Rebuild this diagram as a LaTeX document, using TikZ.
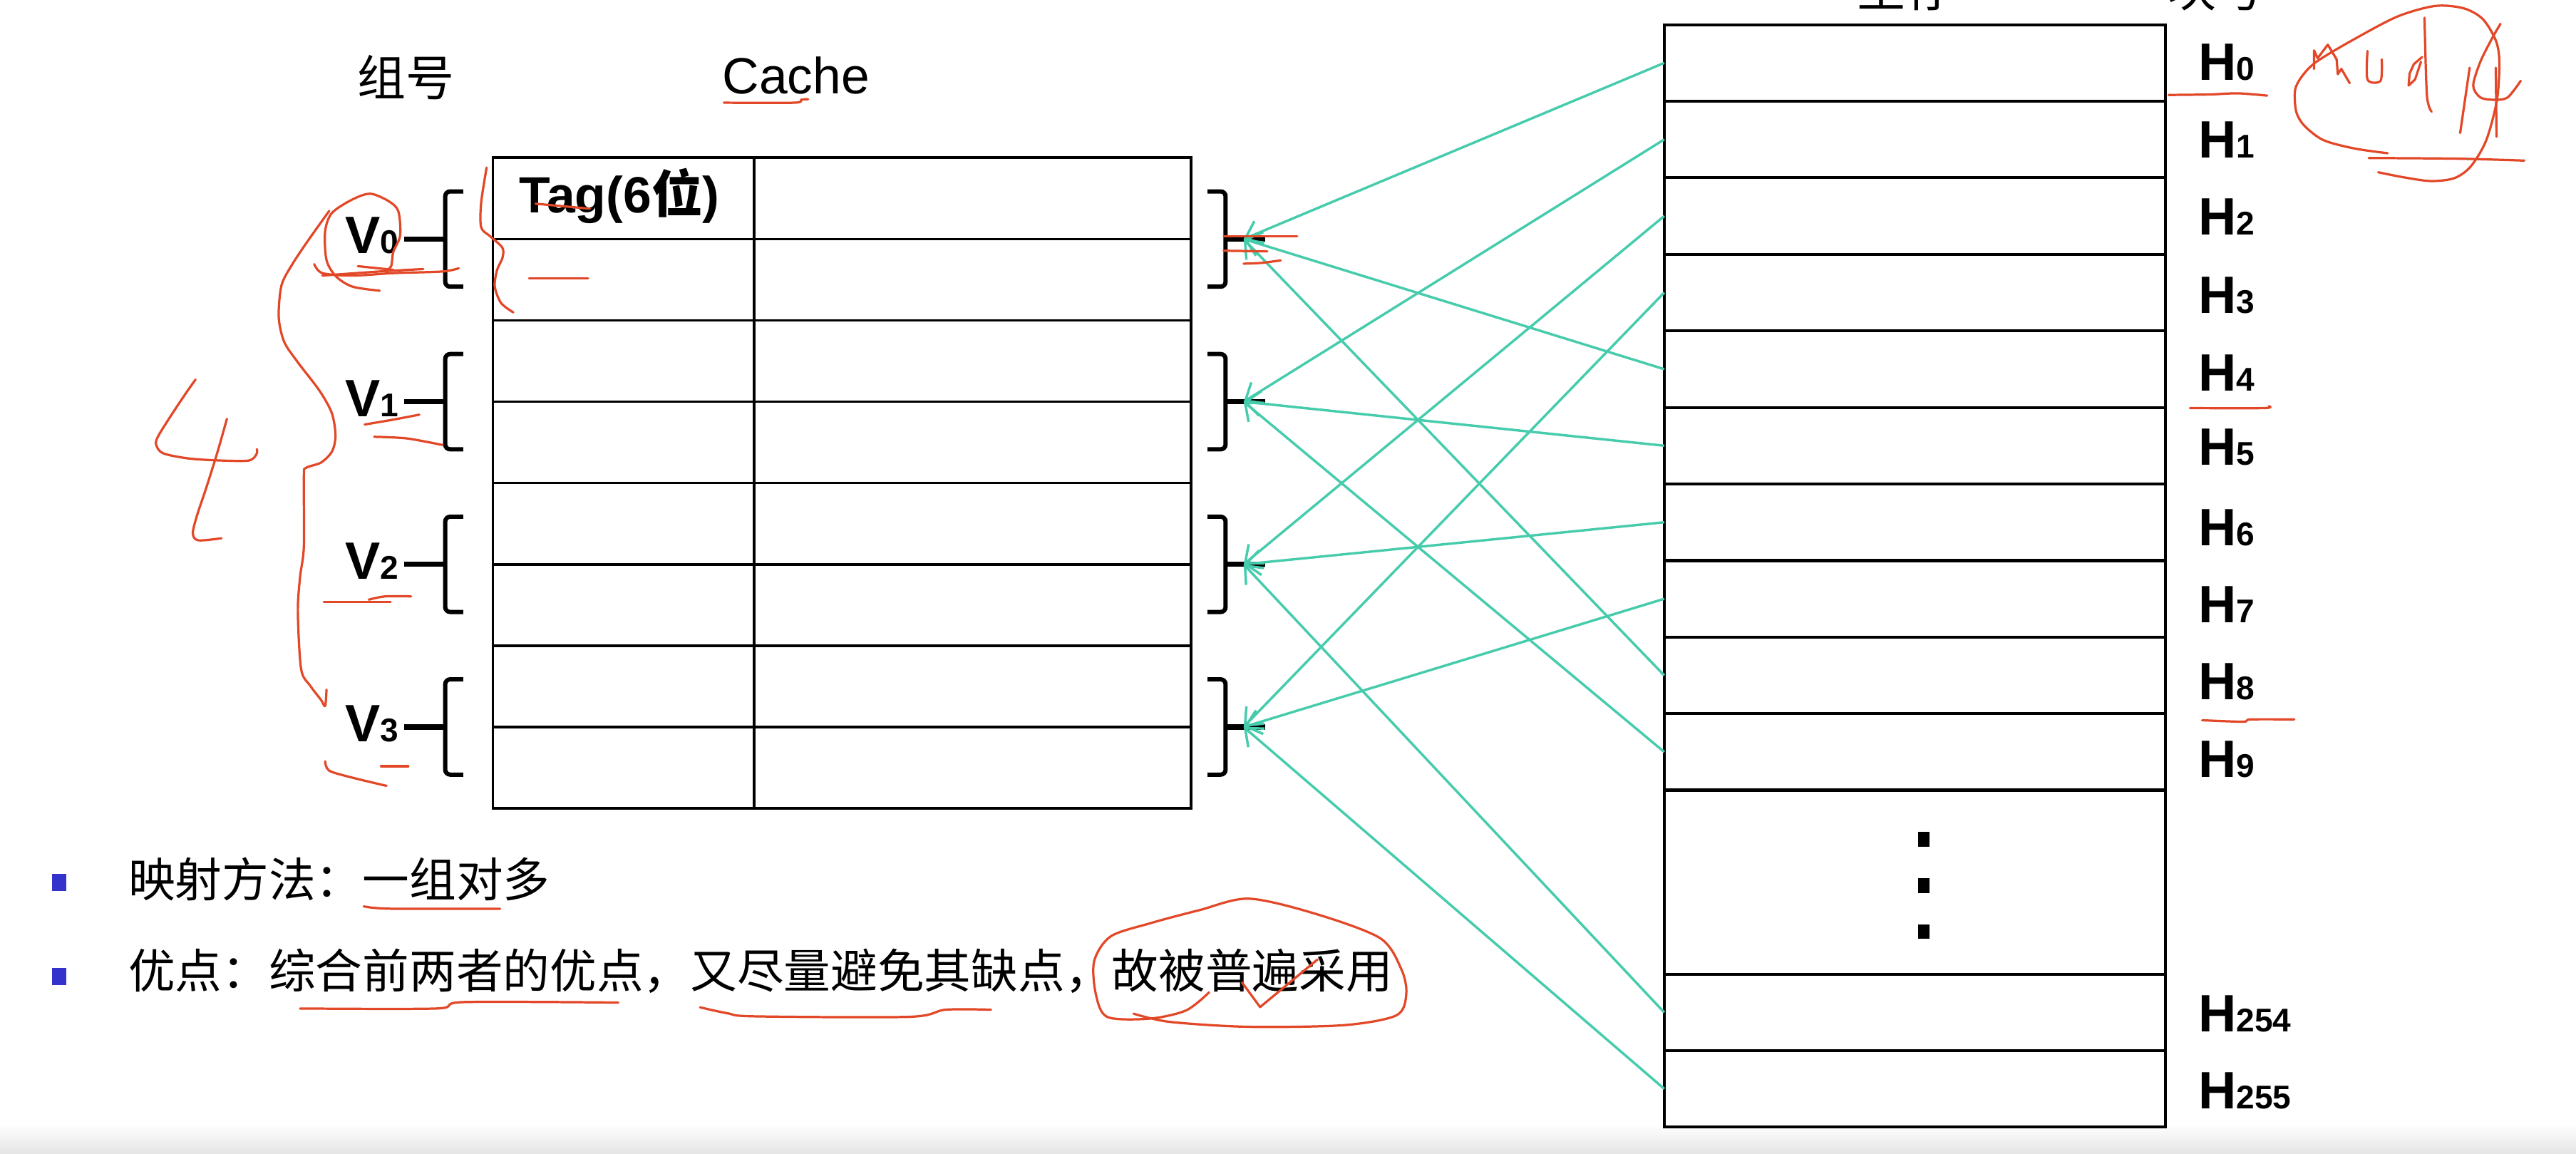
\documentclass[tikz,border=0pt]{standalone}
\usepackage{fontspec}
\setmainfont{Liberation Sans}
\newfontfamily\cjk{Noto Sans CJK SC}
\usetikzlibrary{arrows.meta}
\definecolor{tealline}{RGB}{70,204,172}
\definecolor{ink}{RGB}{226,72,40}
\definecolor{bulletblue}{RGB}{51,51,204}
\newcommand\lsub[1]{{\fontsize{20}{20}\selectfont #1}}
\begin{document}
\begin{tikzpicture}[x=1pt,y=-1pt,
  cell/.style={draw,line width=1.6pt,inner sep=0pt,outer sep=0pt},
  mrow/.style={draw,line width=1.8pt,inner sep=0pt,outer sep=0pt,minimum width=305pt},
  brk/.style={line width=2.6pt,rounded corners=3pt},
  stub/.style={line width=3.2pt},
  conn/.style={draw=tealline,line width=1.5pt,-{Straight Barb[length=9pt,width=15pt]}},
  boldlab/.style={inner sep=0pt,font=\bfseries\fontsize{32}{32}\selectfont},
  cjklab/.style={inner sep=0pt,font=\cjk\fontsize{29.5}{29.5}\selectfont},
  body/.style={inner sep=0pt,anchor=west,font=\cjk\fontsize{28.5}{28.5}\selectfont},
  bul/.style={fill=bulletblue,minimum width=8.5pt,minimum height=10.5pt,inner sep=0pt},
  dotbox/.style={fill=black,minimum width=7pt,minimum height=9pt,inner sep=0pt},
  redink/.style={draw=ink,line width=1.4pt,line cap=round,line join=round}]
\useasboundingbox (0,0) rectangle (1568,702);
\clip (0,0) rectangle (1568,702);
\shade[top color=white,bottom color=black!10] (0,684) rectangle (1568,702);

% Cache table
\foreach \i in {0,...,7}{
  \node[cell,minimum width=159pt,minimum height=49.5pt] (t\i) at (379.5,{96+49.5*(\i+0.5)}) {};
  \node[cell,minimum width=266pt,minimum height=49.5pt] (d\i) at (592,{96+49.5*(\i+0.5)}) {};
}
\node[boldlab,anchor=base west,font=\bfseries\fontsize{31}{31}\selectfont] (tag) at (316,129.4) {Tag(6{\cjk 位})};

% Main memory
\foreach \k in {0,...,9}
  \node[mrow,minimum height=46.6pt] (m\k) at (1165.5,{15+46.6*(\k+0.5)}) {};
\node[mrow,minimum height=112.5pt] (mdots) at (1165.5,537) {};
\node[mrow,minimum height=46.5pt] (m254) at (1165.5,616.25) {};
\node[mrow,minimum height=46.5pt] (m255) at (1165.5,662.75) {};
\node[dotbox] (dot1) at (1171,511) {};
\node[dotbox] (dot2) at (1171,539) {};
\node[dotbox] (dot3) at (1171,567) {};

% H labels
\foreach \n/\y in {0/38,1/85,2/132,3/180,4/227,5/272,6/321,7/368,8/415,9/462,254/617,255/664}
  \node[boldlab,anchor=west] (h\n) at (1338,\y) {H\lsub{\n}};

% groups: brackets, labels, tips
\foreach \g in {0,...,3}{
  \pgfmathsetmacro\cy{145.5+99*\g}
  \draw[brk] (282,{\cy-29}) -- (271,{\cy-29}) -- (271,{\cy+29}) -- (282,{\cy+29});
  \draw[stub] (246,\cy) -- (271,\cy);
  \draw[brk] (735,{\cy-29}) -- (746,{\cy-29}) -- (746,{\cy+29}) -- (735,{\cy+29});
  \draw[stub] (746,\cy) -- (770,\cy);
  \coordinate (tip\g) at (757,\cy);
  \node[boldlab,anchor=east] (v\g) at (243,{\cy-2}) {V\lsub{\g}};
}

% connectors
\foreach \k/\g in {0/0,1/1,2/2,3/3,4/0,5/1,6/2,7/3,8/0,9/1,254/2,255/3}
  \draw[conn] (m\k.west) -- (tip\g);

% headings
\node[cjklab] (zuhao) at (247,47) {组号};
\node[inner sep=0pt,font=\fontsize{31}{31}\selectfont] (cache) at (484.5,46) {Cache};
\node[cjklab,anchor=base] (zhucun) at (1160,4) {主存};
\node[cjklab,anchor=base] (kuaihao) at (1349,4) {块号};

% bullet text
\node[bul] (b1) at (36,537) {};
\node[bul] (b2) at (36,594.5) {};
\node[body] (l1) at (78,535) {映射方法：一组对多};
\node[body] (l2) at (78,591) {优点：综合前两者的优点，又尽量避免其缺点，故被普遍采用};

% red handwriting, left side
\begin{scope}[shift={(65.08,108.46)},xscale=0.16603,yscale=0.24907]
\draw[redink] plot[smooth,tension=0.5] coordinates {(325,492) (290,525) (240,575) (190,628) (180,650) (205,672) (300,685) (420,690) (520,690) (548,675) (550,662)};
\draw[redink] plot[smooth,tension=0.5] coordinates {(440,588) (405,670) (365,755) (330,825) (315,868) (335,885) (420,880)};
\draw[redink] plot[smooth,tension=0.5] coordinates {(815,80) (740,150) (680,210) (640,262) (630,340) (650,400) (700,450) (780,520) (825,575) (838,630) (825,668) (785,695) (730,708) (722,730) (722,900) (708,975) (700,1060) (712,1200) (745,1240) (785,1275) (800,1290) (805,1250)};
\draw[redink] plot[smooth,tension=0.5] coordinates {(1000,275) (900,265) (840,240) (805,200) (800,130) (825,85) (900,52) (965,38) (1030,55) (1068,80) (1075,140) (1050,180) (1042,215) (1020,228)};
\draw[redink] plot[smooth,tension=0.5] coordinates {(760,210) (790,232) (900,238) (1050,232) (1230,228) (1290,220)};
\draw[redink] plot[smooth,tension=0.5] coordinates {(790,238) (1000,228) (1160,222)};
\draw[redink] (920,215) -- (1050,224);
\draw[redink] plot[smooth,tension=0.5] coordinates {(1392,-26) (1372,60) (1372,120) (1405,142) (1450,170) (1450,195) (1430,225) (1422,265) (1445,305) (1490,328)};
\draw[redink] plot[smooth,tension=0.5] coordinates {(945,602) (1050,590) (1145,578)};
\draw[redink] plot[smooth,tension=0.5] coordinates {(980,632) (1100,636) (1230,652)};
\draw[redink] (795,1035) -- (1040,1035);
\draw[redink] plot[smooth,tension=0.5] coordinates {(960,1030) (1020,1022) (1115,1022)};
\draw[redink] plot[smooth,tension=0.5] coordinates {(800,1425) (815,1448) (900,1465) (1025,1485)};
\draw[redink] (1005,1437) -- (1105,1437);
\end{scope}

% red handwriting, top right
\begin{scope}[shift={(1366.6,0)},scale=0.14461]
\draw[redink] plot[smooth,tension=0.5] coordinates {(600,645) (460,625) (330,590) (250,530) (215,470) (210,380) (240,320) (300,260) (450,170) (640,70) (800,25) (920,35) (1000,80) (1055,170) (1070,260) (1060,420) (1015,590) (950,700) (880,750) (780,762) (660,745) (560,725)};
\draw[redink] (290,290) -- (290,212) -- (305,245) -- (348,188) -- (385,250) -- (390,312) -- (405,290) -- (440,350);
\draw[redink] plot[smooth,tension=0.5] coordinates {(515,215) (515,335) (570,340) (575,250)};
\draw[redink] plot[smooth,tension=0.5] coordinates {(755,75) (765,400) (785,470)};
\draw[redink] (745,240) -- (710,270) -- (692,310) -- (688,360) -- (715,335) -- (740,260);
\draw[redink] (945,285) -- (905,560);
\draw[redink] plot[smooth,tension=0.5] coordinates {(1075,100) (1040,160) (990,260) (960,360) (990,410) (1050,420) (1105,410) (1160,340)};
\draw[redink] (1055,285) -- (1058,575);
\draw[redink] plot[smooth,tension=0.5] coordinates {(520,665) (900,668) (1175,676)};
\end{scope}

% red handwriting, bottom text
\begin{scope}[shift={(0,498.9)},xscale=0.5534,yscale=0.14461]
\draw[redink] plot[smooth,tension=0.5] coordinates {(400,365) (430,375) (550,375)};
\draw[redink] plot[smooth,tension=0.5] coordinates {(330,795) (480,795) (510,768) (680,770)};
\draw[redink] plot[smooth,tension=0.5] coordinates {(770,790) (800,815) (830,828) (1000,830) (1040,800) (1090,800)};
\end{scope}
\draw[redink] plot[smooth,tension=0.5] coordinates {(736,604) (722,615) (700,620) (674,619) (667,605) (666,585) (676,570) (700,562) (730,554) (760,547) (800,556) (840,571) (853,590) (856,605) (850,618) (818,624) (760,625) (712,622) (690,617)};
\draw[redink] (756,598) -- (767,613) -- (802,584);

% red handwriting, small marks
\draw[redink] plot[smooth,tension=0.5] coordinates {(440.6,62.5) (483.5,62.5) (487.7,60.7) (491.9,60.4)};
\draw[redink] plot[smooth,tension=0.5] coordinates {(1320,57.8) (1345,57.5) (1362,56.8) (1380,58.2)};
\draw[redink] plot[smooth,tension=0.5] coordinates {(1333,248.4) (1378,248.4) (1381,247.2)};
\draw[redink] plot[smooth,tension=0.5] coordinates {(1340.4,438.4) (1365.3,439.3) (1370,437.9) (1396.5,437.9)};
\draw[redink] (326,124) -- (359,127);
\draw[redink] (322,169.5) -- (358,169.5);
\draw[redink] (744.9,143.9) -- (789.6,143.9);
\draw[redink] (744.8,152.6) -- (771.4,153);
\draw[redink] plot[smooth,tension=0.5] coordinates {(757,160.5) (768,160) (779.5,158.5)};
\end{tikzpicture}
\end{document}
